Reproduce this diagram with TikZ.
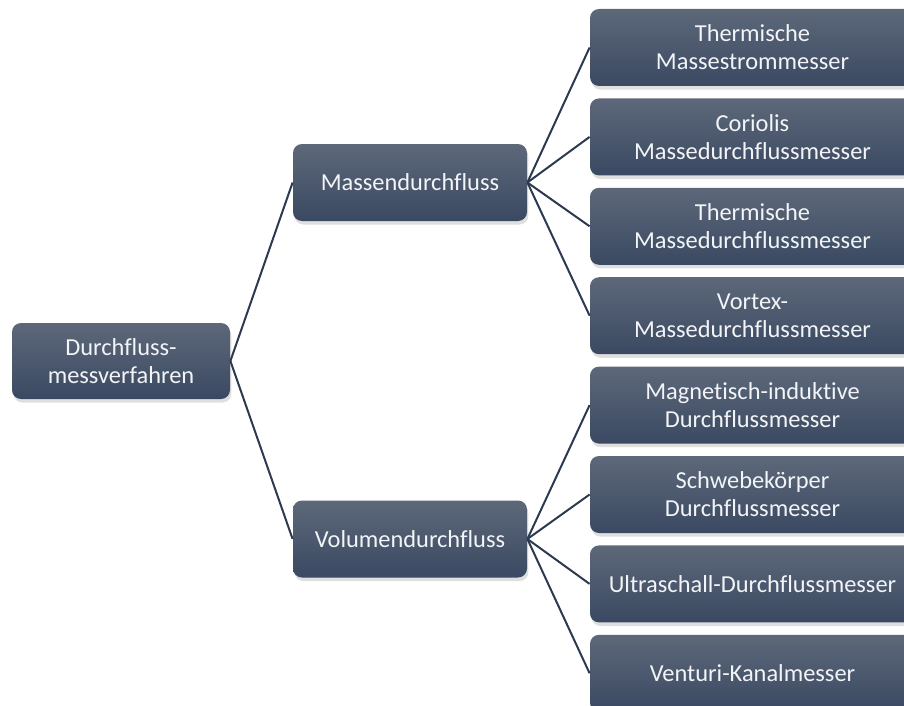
\documentclass[tikz,border=0pt]{standalone}
\usepackage{fontspec}
\setmainfont{Carlito}[Ligatures=NoCommon]
\usepackage{xcolor}
\definecolor{boxtop}{HTML}{5D6879}
\definecolor{boxbot}{HTML}{3A4962}
\definecolor{wire}{HTML}{2C3A51}
\definecolor{label}{HTML}{F2F4F7}
\usepackage{tikz}
\usetikzlibrary{shadows}

\begin{document}
\begin{tikzpicture}[x=0.5pt,y=-0.5pt,
    box/.style={rectangle,rounded corners=4.5pt,top color=boxtop,bottom color=boxbot,
      draw=none,text=label,align=center,inner sep=2pt,
      font=\fontsize{12.2}{14}\selectfont,
      drop shadow={opacity=0.25,shadow xshift=0.7pt,shadow yshift=-1.8pt}},
    root/.style={box,minimum width=109pt,minimum height=38pt},
    mid/.style={box,minimum width=117pt,minimum height=38.5pt},
    leaf/.style={box,minimum width=162.5pt,minimum height=38.5pt},
    link/.style={draw=wire,line width=1pt}]
    \useasboundingbox (0,0) rectangle (904,706);
    % levels
    \node[root] (verf) at (121,361) {Durchfluss-\\messverfahren};
    \node[mid] (masse) at (410,182.5) {Massendurchfluss};
    \node[mid] (volumen) at (410,539) {Volumendurchfluss};
    % mass flow meters
    \node[leaf] (therm) at (752.5,47.5) {Thermische\\Massestrommesser};
    \node[leaf] (corio) at (752.5,136.9) {Coriolis\\Massedurchflussmesser};
    \node[leaf] (thermd) at (752.5,226.3) {Thermische\\Massedurchflussmesser};
    \node[leaf] (vortex) at (752.5,315.7) {Vortex-\\Massedurchflussmesser};
    % volume flow meters
    \node[leaf] (magind) at (752.5,405.1) {Magnetisch-induktive\\Durchflussmesser};
    \node[leaf] (schweb) at (752.5,494.5) {Schwebekörper\\Durchflussmesser};
    \node[leaf] (ultra) at (752.5,583.9) {Ultraschall-Durchflussmesser};
    \node[leaf] (venturi) at (752.5,673.3) {Venturi-Kanalmesser};
    \draw[link] (verf.east) -- (masse.west);
    \draw[link] (verf.east) -- (volumen.west);
    \draw[link] (masse.east) -- (therm.west);
    \draw[link] (masse.east) -- (corio.west);
    \draw[link] (masse.east) -- (thermd.west);
    \draw[link] (masse.east) -- (vortex.west);
    \draw[link] (volumen.east) -- (magind.west);
    \draw[link] (volumen.east) -- (schweb.west);
    \draw[link] (volumen.east) -- (ultra.west);
    \draw[link] (volumen.east) -- (venturi.west);
  \end{tikzpicture}
\end{document}
